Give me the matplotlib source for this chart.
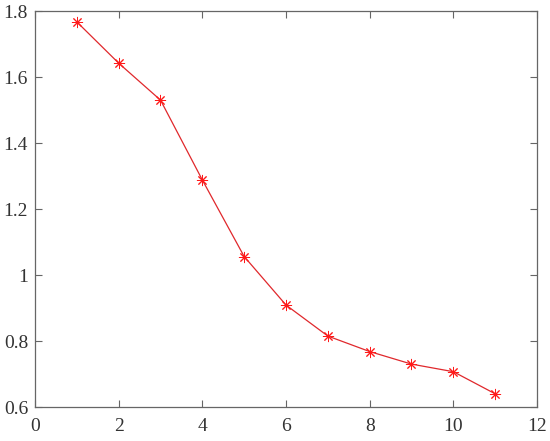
import matplotlib.pyplot as plt

# Values
x = [1, 2, 3, 4, 5, 6, 7, 8, 9, 10, 11]
y = [1.767, 1.642, 1.530, 1.288, 1.056, 0.909, 0.815, 0.768, 0.730, 0.707, 0.640]
xticks = [0, 2, 4, 6, 8, 10, 12]
yticks = [0.6, 0.8, 1.0, 1.2, 1.4, 1.6, 1.8]
ytick_labels = ["0.6", "0.8", "1", "1.2", "1.4", "1.6", "1.8"]

plt.rcParams['font.family'] = ['Liberation Serif', 'DejaVu Serif']

fig = plt.figure(figsize=(5.5, 4.41), dpi=100)
ax = fig.add_axes([35 / 550, 1 - 407 / 441, (537 - 35) / 550, (407 - 11) / 441])

# MATLAB-style asterisk marker (8 arms)
ax.plot(x, y, color='#e0282c', linewidth=0.9, marker=(8, 2, 0), markersize=8,
        markeredgewidth=0.7, markeredgecolor='#ff1a1a')

ax.set_xlim(0, 12)
ax.set_ylim(0.6, 1.8)
ax.set_xticks(xticks)
ax.set_yticks(yticks)
ax.set_yticklabels(ytick_labels)

for s in ax.spines.values():
    s.set_color('#666666')
    s.set_linewidth(0.9)
ax.tick_params(direction='in', top=True, right=True, length=5, width=0.8,
               color='#666666', labelsize=14, labelcolor='#333333')
ax.tick_params(axis='x', pad=8)
ax.tick_params(axis='y', pad=5)

fig.savefig("out.png", dpi=100)
